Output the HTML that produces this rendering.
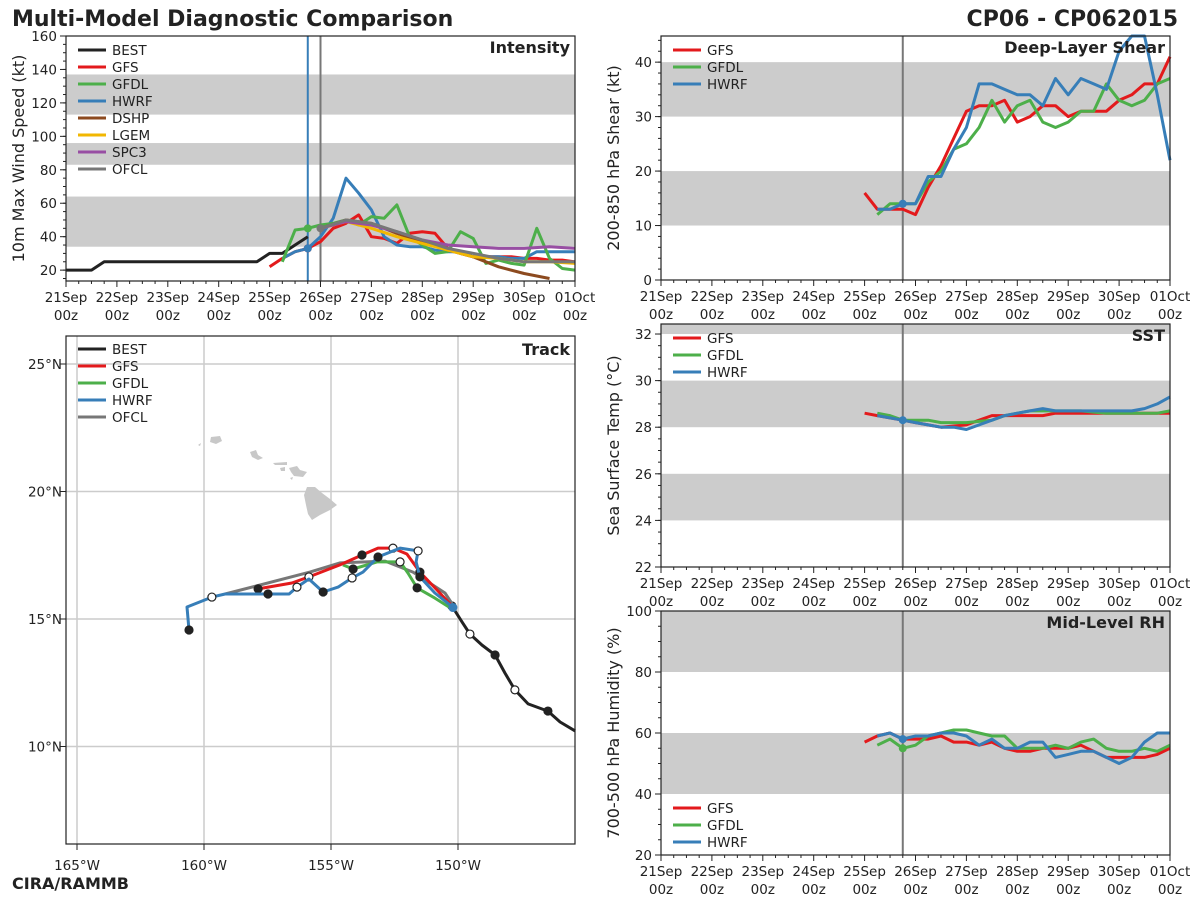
<!DOCTYPE html>
<html><head><meta charset="utf-8"><style>
body{margin:0;background:#fff;width:1200px;height:900px;overflow:hidden}
svg text{font-family:"DejaVu Sans","Liberation Sans",sans-serif;fill:#222}
</style></head><body>
<svg id="c" width="1200" height="900" xmlns="http://www.w3.org/2000/svg">
<text x="12" y="26" font-size="22" font-weight="bold">Multi-Model Diagnostic Comparison</text>
<text x="1178" y="26" font-size="22" font-weight="bold" text-anchor="end">CP06 - CP062015</text>
<text x="12" y="889" font-size="16" font-weight="bold">CIRA/RAMMB</text>
</svg>
<script>
// ---------- data ----------
const dayTicks=["21Sep","22Sep","23Sep","24Sep","25Sep","26Sep","27Sep","28Sep","29Sep","30Sep","01Oct"];
const tQ=[4,4.25,4.5,4.75,5,5.25,5.5,5.75,6,6.25,6.5,6.75,7,7.25,7.5,7.75,8,8.25,8.5,8.75,9,9.25,9.5,9.75,10];
const bestDays=[0,0.5,0.75,3.75,4,4.25,4.5,4.75];
const bestVmax=[20,20,25,25,30,30,35,40];
const gfsVmax=[22,27,31,33,37,45,48,53,40,39,36,42,43,42,33,30,28,28,28,28,27,27,26,26,25];
const hwrfVmax=[null,27,31,33,40,51,75,66,56,40,35,34,34,32,31,31,28,28,28,27,27,31,31,31,31];
const gfdlVmax=[null,25,44,45,47,48,50,47,52,51,59,40,35,30,31,43,39,24,26,24,23,45,27,21,20];
const statDays=[5,5.5,6,6.5,7,7.5,8,8.5,9,9.5,10];
const dshpVmax=[45,50,48,42,37,32,28,22,18,15,null];
const lgemVmax=[45,49,45,40,36,32,28,27,25,25,24];
const spc3Vmax=[45,49,47,43,38,35,34,33,33,34,33];
const ofclVmax=[45,50,48,43,38,33,30,27,25,25,25];
const gfsShear=[16,13,13,13,12,17,21,26,31,32,32,33,29,30,32,32,30,31,31,31,33,34,36,36,41];
const gfdlShear=[null,12,14,14,14,18,20,24,25,28,33,29,32,33,29,28,29,31,31,36,33,32,33,36,37];
const hwrfShear=[null,13,13,14,14,19,19,24,28,36,36,35,34,34,32,37,34,37,36,35,42,47,46,34,22];
const gfsSst=[28.6,28.5,28.4,28.3,28.2,28.1,28.0,28.05,28.1,28.3,28.5,28.5,28.5,28.5,28.5,28.6,28.6,28.6,28.6,28.6,28.6,28.6,28.6,28.6,28.6];
const gfdlSst=[null,28.6,28.5,28.3,28.3,28.3,28.2,28.2,28.2,28.25,28.3,28.5,28.6,28.7,28.7,28.7,28.7,28.7,28.65,28.6,28.6,28.6,28.6,28.6,28.7];
const hwrfSst=[null,28.5,28.4,28.3,28.2,28.1,28.0,28.0,27.9,28.1,28.3,28.5,28.6,28.7,28.8,28.7,28.7,28.7,28.7,28.7,28.7,28.7,28.8,29.0,29.3];
const gfsRh=[57,59,60,58,58,58,59,57,57,56,57,55,54,54,55,55,55,56,54,52,52,52,52,53,55];
const gfdlRh=[null,56,58,55,56,59,60,61,61,60,59,59,55,55,55,56,55,57,58,55,54,54,55,54,56];
const hwrfRh=[null,59,60,58,59,59,60,60,59,56,58,55,55,57,57,52,53,54,54,52,50,52,57,60,60];
const bestLon=[-145.39,-145.98,-146.46,-147.24,-147.76,-148.15,-148.54,-149.06,-149.53,-149.84,-150.24];
const bestLat=[10.61,10.96,11.39,11.67,12.22,12.88,13.59,13.98,14.41,14.88,15.51];
const gfsLon=[-150.20,-150.83,-151.50,-152.01,-152.56,-153.15,-153.78,-154.65,-155.87,-156.54,-157.87];
const gfsLat=[15.47,16.14,16.84,17.55,17.78,17.78,17.51,17.12,16.65,16.41,16.18];
const gfdlLon=[-150.16,-150.91,-151.61,-151.97,-152.28,-153.19,-154.13,-154.53];
const gfdlLat=[15.35,15.82,16.22,16.80,17.24,17.24,16.96,17.12];
const hwrfLon=[-150.16,-150.91,-151.50,-151.65,-151.57,-152.28,-153.15,-153.74,-154.17,-154.72,-155.31,-155.87,-156.34,-156.65,-157.48,-159.17,-159.69,-160.67,-160.59];
const hwrfLat=[15.43,16.02,16.65,17.24,17.67,17.78,17.43,16.84,16.61,16.25,16.06,16.57,16.25,15.98,15.98,15.98,15.86,15.47,14.57];
const ofclLon=[-150.20,-150.51,-151.77,-152.87,-154.65,-155.83,-159.17];
const ofclLat=[15.55,16.02,16.84,17.27,17.20,16.84,15.98];

const C={BEST:"#222",GFS:"#e31a1c",GFDL:"#4daf4a",HWRF:"#377eb8",DSHP:"#8c4a1f",LGEM:"#f2b701",SPC3:"#984ea3",OFCL:"#777"};
const svg=document.getElementById('c');
const NS="http://www.w3.org/2000/svg";
function el(tag,attrs,parent){const e=document.createElementNS(NS,tag);for(const k in attrs)e.setAttribute(k,attrs[k]);(parent||svg).appendChild(e);return e;}
function txt(x,y,s,attrs){const e=el('text',Object.assign({x:x,y:y},attrs||{}));e.textContent=s;return e;}

function panel(name,x0,y0,x1,y1,ymin,ymax,bands,yticks,minorStep,ylabel,title,vlines){
  const g=el('g',{});
  
  
  const sx=d=>x0+(d/10)*(x1-x0);
  const sy=v=>y1-(v-ymin)/(ymax-ymin)*(y1-y0);
  bands.forEach(b=>{const r=el('rect',{x:x0,y:sy(Math.min(b[1],ymax)),width:x1-x0,height:sy(b[0])-sy(Math.min(b[1],ymax)),fill:'#cccccc'},g);
    });
  for(let i=0;i<=40;i++){const x=sx(i/4);el('line',{x1:x,x2:x,y1:y1,y2:y1+(i%4==0?6:3),stroke:'#222'},g);}
  dayTicks.forEach((d,i)=>{const t1=txt(sx(i),y1+21,d,{'font-size':13.5,'text-anchor':'middle'});
    const t2=txt(sx(i),y1+39,'00z',{'font-size':13.5,'text-anchor':'middle'});});
  for(let v=Math.ceil(ymin/minorStep)*minorStep;v<=ymax+1e-9;v+=minorStep){el('line',{x1:x0-3,x2:x0,y1:sy(v),y2:sy(v),stroke:'#222'},g);}
  yticks.forEach(v=>{el('line',{x1:x0-6,x2:x0,y1:sy(v),y2:sy(v),stroke:'#222'},g);
    const t=txt(x0-9,sy(v)+5,String(v),{'font-size':13.5,'text-anchor':'end'});});
  const yl=txt(0,0,ylabel,{'font-size':16,'text-anchor':'middle',transform:`translate(${x0-42},${(y0+y1)/2}) rotate(-90)`});
  
  vlines.forEach(v=>el('line',{x1:sx(v[0]),x2:sx(v[0]),y1:y0,y2:y1,stroke:v[1],'stroke-width':2},g));
  const tt=txt(x1-5,y0+17,title,{'font-size':16,'font-weight':'bold','text-anchor':'end'});
  
  return {g,sx,sy,x0,y0,x1,y1};
}
function series(p,name,days,vals,color){
  let d='';let pen=false;
  days.forEach((t,i)=>{const v=vals[i];if(v==null){pen=false;return;}
    let y=p.sy(v);if(y<p.y0)y=p.y0;d+=(pen?'L':'M')+p.sx(t).toFixed(1)+','+y.toFixed(1);pen=true;});
  const e=el('path',{d:d,fill:'none',stroke:color,'stroke-width':3,'stroke-linejoin':'round'},p.g);
  
  
}
function frame(p){el('rect',{x:p.x0,y:p.y0,width:p.x1-p.x0,height:p.y1-p.y0,fill:'none',stroke:'#222','stroke-width':1.2},p.g);}
function legend(p,names,x,y){names.forEach((n,i)=>{const yy=y+i*17;el('line',{x1:x,x2:x+28,y1:yy,y2:yy,stroke:C[n],'stroke-width':3},p.g);
  const t=txt(x+34,yy+5,n,{'font-size':13.5});});}

// Intensity
const pI=panel('intensity',66,36,575,281,13.5,160,[[34,64],[83,96],[113,137]],[20,40,60,80,100,120,140,160],5,'10m Max Wind Speed (kt)','Intensity',[[4.75,'#377eb8'],[5,'#777']]);
series(pI,'best',bestDays,bestVmax,C.BEST);
series(pI,'gfs',tQ,gfsVmax,C.GFS);
series(pI,'hwrf',tQ,hwrfVmax,C.HWRF);
series(pI,'gfdl',tQ,gfdlVmax,C.GFDL);
series(pI,'dshp',statDays,dshpVmax,C.DSHP);
series(pI,'lgem',statDays,lgemVmax,C.LGEM);
series(pI,'spc3',statDays,spc3Vmax,C.SPC3);
series(pI,'ofcl',statDays,ofclVmax,C.OFCL);
[[4.75,gfsVmax[3],C.GFS],[4.75,hwrfVmax[3],C.HWRF],[4.75,gfdlVmax[3],C.GFDL],[5,ofclVmax[0],C.OFCL]].forEach(m=>el('circle',{cx:pI.sx(m[0]),cy:pI.sy(m[1]),r:4,fill:m[2]},pI.g));
legend(pI,['BEST','GFS','GFDL','HWRF','DSHP','LGEM','SPC3','OFCL'],78,50);
frame(pI);

// Shear
const pS=panel('shear',661,36,1170,280,0,44.8,[[10,20],[30,40]],[0,10,20,30,40],2,'200-850 hPa Shear (kt)','Deep-Layer Shear',[[4.75,'#777']]);
series(pS,'gfs',tQ,gfsShear,C.GFS);series(pS,'gfdl',tQ,gfdlShear,C.GFDL);series(pS,'hwrf',tQ,hwrfShear,C.HWRF);
el('circle',{cx:pS.sx(4.75),cy:pS.sy(hwrfShear[3]),r:4,fill:C.HWRF},pS.g);
legend(pS,['GFS','GFDL','HWRF'],673,50);frame(pS);

// SST
const pT=panel('sst',661,324,1170,567,22,32.43,[[24,26],[28,30],[32,40]],[22,24,26,28,30,32],0.5,'Sea Surface Temp (°C)','SST',[[4.75,'#777']]);
series(pT,'gfs',tQ,gfsSst,C.GFS);series(pT,'gfdl',tQ,gfdlSst,C.GFDL);series(pT,'hwrf',tQ,hwrfSst,C.HWRF);
el('circle',{cx:pT.sx(4.75),cy:pT.sy(28.3),r:4,fill:C.HWRF},pT.g);
legend(pT,['GFS','GFDL','HWRF'],673,338);frame(pT);

// RH
const pR=panel('rh',661,611,1170,855,20,100,[[40,60],[80,100]],[20,40,60,80,100],5,'700-500 hPa Humidity (%)','Mid-Level RH',[[4.75,'#777']]);
series(pR,'gfs',tQ,gfsRh,C.GFS);series(pR,'gfdl',tQ,gfdlRh,C.GFDL);series(pR,'hwrf',tQ,hwrfRh,C.HWRF);
el('circle',{cx:pR.sx(4.75),cy:pR.sy(hwrfRh[3]),r:4,fill:C.HWRF},pR.g);
el('circle',{cx:pR.sx(4.75),cy:pR.sy(gfdlRh[3]),r:4,fill:C.GFDL},pR.g);
legend(pR,['GFS','GFDL','HWRF'],673,808);frame(pR);

// Track map
const tg=el('g',{});


const TX0=66,TX1=575,TY0=336,TY1=844;
const lx=lon=>77+(lon+165)*25.4, ly=lat=>364-(lat-25)*25.5;
[-165,-160,-155,-150].forEach(l=>{el('line',{x1:lx(l),x2:lx(l),y1:TY0,y2:TY1,stroke:'#ccc','stroke-width':1.5},tg);
  el('line',{x1:lx(l),x2:lx(l),y1:TY1,y2:TY1+6,stroke:'#222'},tg);
  const t=txt(lx(l),TY1+26,(-l)+'°W',{'font-size':13.5,'text-anchor':'middle'});});
[10,15,20,25].forEach(l=>{el('line',{x1:TX0,x2:TX1,y1:ly(l),y2:ly(l),stroke:'#ccc','stroke-width':1.5},tg);
  el('line',{x1:TX0-6,x2:TX0,y1:ly(l),y2:ly(l),stroke:'#222'},tg);
  const t=txt(TX0-4,ly(l)+5,l+'°N',{'font-size':13.5,'text-anchor':'end'});});
const isl=el('g',{fill:'#c8c8c8'},tg);


['M211,437 L220,436 L222,441 L216,444 L210,442Z','M198,445 L201,443 L200,446Z','M250,452 L256,450 L258,455 L263,458 L258,460 L252,457Z',
 'M273,463 L287,462 L287,465 L275,465Z','M280,468 L285,467 L285,471 L281,471Z','M289,468 L297,466 L300,470 L307,472 L303,477 L294,476 L291,472Z','M290,478 L293,477 L292,480Z',
 'M307,487 L315,487 L322,493 L330,499 L337,505 L330,510 L320,515 L312,520 L308,514 L306,505 L304,495Z'].forEach(d=>el('path',{d:d},isl));
function track(name,lons,lats,color,marks){
  let d='';lons.forEach((l,i)=>{d+=(i?'L':'M')+lx(l).toFixed(1)+','+ly(lats[i]).toFixed(1);});
  const e=el('path',{d:d,fill:'none',stroke:color,'stroke-width':3,'stroke-linejoin':'round'},tg);
  
  
  if(marks)lons.forEach((l,i)=>{if(i%2==0&&i>0){el('circle',{cx:lx(l),cy:ly(lats[i]),r:4,fill:(i/2)%2?'#222':'#fff',stroke:'#222','stroke-width':1.2},tg);}});
}
track('best',bestLon,bestLat,C.BEST,true);
track('ofcl',ofclLon,ofclLat,C.OFCL,false);
track('gfdl',gfdlLon,gfdlLat,C.GFDL,true);
track('gfs',gfsLon,gfsLat,C.GFS,true);
track('hwrf',hwrfLon,hwrfLat,C.HWRF,true);
el('circle',{cx:lx(hwrfLon[hwrfLon.length-1]),cy:ly(hwrfLat[hwrfLat.length-1]),r:4,fill:'#222'},tg);
el('circle',{cx:lx(-150.2),cy:ly(15.45),r:4.5,fill:C.HWRF},tg);
const tp={g:tg};legend(tp,['BEST','GFS','GFDL','HWRF','OFCL'],78,349);
const tt=txt(TX1-5,TY0+19,'Track',{'font-size':16,'font-weight':'bold','text-anchor':'end'});

el('rect',{x:TX0,y:TY0,width:TX1-TX0,height:TY1-TY0,fill:'none',stroke:'#222','stroke-width':1.2},tg);
</script>
</body></html>
